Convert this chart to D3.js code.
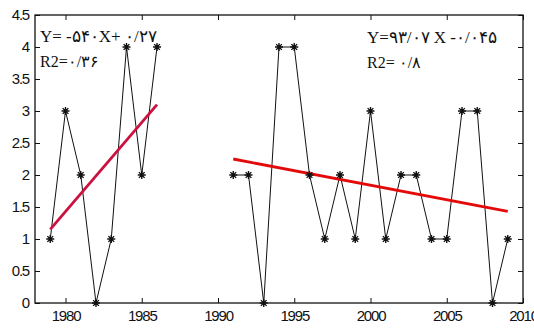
<!DOCTYPE html>
<html>
<head>
<meta charset="utf-8">
<script src="https://cdn.jsdelivr.net/npm/d3@7"></script>
<style>
  body { margin: 0; background: #fff; }
  svg { display: block; }
  .tick text { font-family: "Liberation Sans", Arial, sans-serif; font-size: 15px; fill: #111; letter-spacing: -1.2px; }
  .eq { font-family: "Liberation Serif", "Times New Roman", serif; fill: #111; }
</style>
</head>
<body>
<div id="chart"></div>
<script>
// data
const years1 = [1979, 1980, 1981, 1982, 1983, 1984, 1985, 1986];
const values1 = [1, 3, 2, 0, 1, 4, 2, 4];
const years2 = [1991, 1992, 1993, 1994, 1995, 1996, 1997, 1998, 1999, 2000,
  2001, 2002, 2003, 2004, 2005, 2006, 2007, 2008, 2009];
const values2 = [2, 2, 0, 4, 4, 2, 1, 2, 1, 3, 1, 2, 2, 1, 1, 3, 3, 0, 1];
const trend1 = [[1979, 1.15], [1986, 3.1]];
const trend2 = [[1991, 2.25], [2009, 1.43]];
const xTicks = [1980, 1985, 1990, 1995, 2000, 2005, 2010];
const yTicks = [0, 0.5, 1, 1.5, 2, 2.5, 3, 3.5, 4, 4.5];
const eq1 = 'Y= -۵۴۰X+ ۰/۲۷';
const r21 = 'R2=۰/۳۶';
const eq2 = 'Y=۹۳/۰۷ X -۰/۰۴۵';
const r22 = 'R2= ۰/۸';

const width = 534;
const height = 329;
const margin = { top: 15, right: 11, bottom: 26, left: 35 };
const innerW = width - margin.left - margin.right;
const innerH = height - margin.top - margin.bottom;

const x = d3.scaleLinear().domain([1978, 2010]).range([0, innerW]);
const y = d3.scaleLinear().domain([0, 4.5]).range([innerH, 0]);

const svg = d3.select('#chart')
  .append('svg')
  .attr('width', width)
  .attr('height', height);

const g = svg.append('g')
  .attr('transform', `translate(${margin.left},${margin.top})`);

// box + axes, matlab style ticks pointing inside
g.append('rect')
  .attr('width', innerW)
  .attr('height', innerH)
  .attr('fill', 'none')
  .attr('stroke', '#111')
  .attr('stroke-width', 1.3);

const styleAxis = (sel) => {
  sel.select('.domain').remove();
  sel.selectAll('.tick line').attr('stroke', '#111');
};

g.append('g')
  .attr('transform', `translate(0,${innerH})`)
  .call(d3.axisBottom(x).tickValues(xTicks).tickFormat(d3.format('d'))
    .tickSizeInner(-5).tickPadding(7))
  .call(styleAxis);

g.append('g')
  .call(d3.axisTop(x).tickValues(xTicks).tickFormat('').tickSizeInner(-5))
  .call(styleAxis);

g.append('g')
  .call(d3.axisLeft(y).tickValues(yTicks).tickFormat((d) => d).tickSizeInner(-5).tickPadding(6))
  .call(styleAxis);

g.append('g')
  .attr('transform', `translate(${innerW},0)`)
  .call(d3.axisRight(y).tickValues(yTicks).tickFormat('').tickSizeInner(-5))
  .call(styleAxis);

const line = d3.line().x((d) => x(d[0])).y((d) => y(d[1]));

const series = [
  d3.zip(years1, values1),
  d3.zip(years2, values2),
];

series.forEach((pts) => {
  g.append('path')
    .datum(pts)
    .attr('fill', 'none')
    .attr('stroke', '#111')
    .attr('stroke-width', 1)
    .attr('d', line);
});

// trend lines
g.append('path')
  .datum(trend1)
  .attr('fill', 'none')
  .attr('stroke', '#cc1040')
  .attr('stroke-width', 2.8)
  .attr('d', line);

g.append('path')
  .datum(trend2)
  .attr('fill', 'none')
  .attr('stroke', '#e50a0a')
  .attr('stroke-width', 2.8)
  .attr('d', line);

// asterisk markers
const s = 4;
const d = s * 0.72;
const star = `M${-s},0H${s}M0,${-s}V${s}M${-d},${-d}L${d},${d}M${-d},${d}L${d},${-d}`;
g.selectAll('.star')
  .data(series.flat())
  .enter()
  .append('path')
  .attr('class', 'star')
  .attr('transform', (p) => `translate(${x(p[0])},${y(p[1])})`)
  .attr('d', star)
  .attr('stroke', '#111')
  .attr('stroke-width', 1.4);

// equations
const texts = [
  { t: eq1, x: 40, y: 42, size: 17 },
  { t: r21, x: 40, y: 67, size: 16 },
  { t: eq2, x: 367, y: 43, size: 17 },
  { t: r22, x: 367, y: 68, size: 16 },
];
svg.selectAll('.eq')
  .data(texts)
  .enter()
  .append('text')
  .attr('class', 'eq')
  .attr('x', (t) => t.x)
  .attr('y', (t) => t.y)
  .attr('font-size', (t) => t.size)
  .attr('direction', 'ltr')
  .style('unicode-bidi', 'plaintext')
  .text((t) => t.t);
</script>
</body>
</html>
